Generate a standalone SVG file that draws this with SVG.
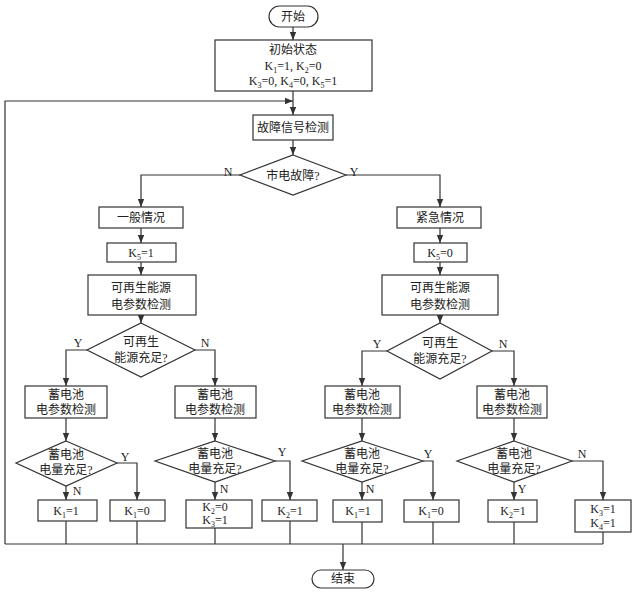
<svg xmlns="http://www.w3.org/2000/svg" width="640" height="593" viewBox="0 0 640 593">
<style>
.s{fill:#fff;stroke:#333;stroke-width:1.2}
.c{fill:none;stroke:#333;stroke-width:1.2}
text{font-family:"Liberation Serif","Noto Sans CJK SC",serif;font-size:12px;fill:#222;text-anchor:middle}
.sub{font-size:8px}
</style>
<defs><marker id="a" viewBox="0 0 10 10" refX="10" refY="5" markerWidth="7" markerHeight="7" orient="auto"><path d="M0,1 L10,5 L0,9 z" fill="#333"/></marker></defs>
<g id="connectors">
<path class="c" d="M293,27 V40" marker-end="url(#a)"/>
<path class="c" d="M293,91 V115" marker-end="url(#a)"/>
<path class="c" d="M5,544 V101 H293" marker-end="url(#a)"/>
<path class="c" d="M293,140 V155" marker-end="url(#a)"/>
<path class="c" d="M240,175 H141 V207" marker-end="url(#a)"/>
<path class="c" d="M346,175 H440 V207" marker-end="url(#a)"/>
<path class="c" d="M141,228 V243" marker-end="url(#a)"/>
<path class="c" d="M141,262 V275" marker-end="url(#a)"/>
<path class="c" d="M141,315 V323" marker-end="url(#a)"/>
<path class="c" d="M440,228 V243" marker-end="url(#a)"/>
<path class="c" d="M440,262 V275" marker-end="url(#a)"/>
<path class="c" d="M440,315 V323" marker-end="url(#a)"/>
<path class="c" d="M87,350 H66 V386" marker-end="url(#a)"/>
<path class="c" d="M195,350 H215 V386" marker-end="url(#a)"/>
<path class="c" d="M387,351 H362 V386" marker-end="url(#a)"/>
<path class="c" d="M492,351 H514 V386" marker-end="url(#a)"/>
<path class="c" d="M66,418 V441" marker-end="url(#a)"/>
<path class="c" d="M215,418 V441" marker-end="url(#a)"/>
<path class="c" d="M362,418 V441" marker-end="url(#a)"/>
<path class="c" d="M514,418 V441" marker-end="url(#a)"/>
<path class="c" d="M66,486 V500" marker-end="url(#a)"/>
<path class="c" d="M117,463 H137 V500" marker-end="url(#a)"/>
<path class="c" d="M215,482 V500" marker-end="url(#a)"/>
<path class="c" d="M275,461 H290 V500" marker-end="url(#a)"/>
<path class="c" d="M362,482 V500" marker-end="url(#a)"/>
<path class="c" d="M423,461 H433 V500" marker-end="url(#a)"/>
<path class="c" d="M514,482 V500" marker-end="url(#a)"/>
<path class="c" d="M572,461 H603 V500" marker-end="url(#a)"/>
<path class="c" d="M5,544 H603 M66,521 V544 M137,521 V544 M215,528 V544 M290,521 V544 M362,522 V544 M433,522 V544 M514,522 V544 M603,532 V544"/>
<path class="c" d="M343,544 V570" marker-end="url(#a)"/>
</g>
<g id="start"><rect class="s" x="269" y="6" width="49" height="21" rx="10.5"/><text x="293" y="21">开始</text></g>
<g id="init"><rect class="s" x="215" y="40" width="157" height="51"/><text x="293" y="54">初始状态</text>
<text x="293" y="70">K<tspan class="sub" dy="3">1</tspan><tspan dy="-3">=1, K</tspan><tspan class="sub" dy="3">2</tspan><tspan dy="-3">=0</tspan></text>
<text x="293" y="85">K<tspan class="sub" dy="3">3</tspan><tspan dy="-3">=0, K</tspan><tspan class="sub" dy="3">4</tspan><tspan dy="-3">=0, K</tspan><tspan class="sub" dy="3">5</tspan><tspan dy="-3">=1</tspan></text></g>
<g id="detect"><rect class="s" x="253" y="115" width="80" height="25"/><text x="293" y="132">故障信号检测</text></g>
<g id="grid"><polygon class="s" points="293,155 346,175 293,195 240,175"/><text x="293" y="180">市电故障?</text><text x="228" y="176">N</text><text x="354" y="176">Y</text></g>
<g id="normal"><rect class="s" x="99" y="207" width="84" height="21"/><text x="141" y="222">一般情况</text></g>
<g id="k5a"><rect class="s" x="107" y="243" width="69" height="19"/><text x="141" y="257">K<tspan class="sub" dy="3">5</tspan><tspan dy="-3">=1</tspan></text></g>
<g id="reL"><rect class="s" x="88" y="275" width="108" height="40"/><text x="141" y="292">可再生能源</text><text x="141" y="309">电参数检测</text></g>
<g id="emerg"><rect class="s" x="397" y="207" width="84" height="21"/><text x="440" y="222">紧急情况</text></g>
<g id="k5b"><rect class="s" x="414" y="243" width="53" height="19"/><text x="440" y="257">K<tspan class="sub" dy="3">5</tspan><tspan dy="-3">=0</tspan></text></g>
<g id="reR"><rect class="s" x="382" y="275" width="116" height="40"/><text x="440" y="292">可再生能源</text><text x="440" y="309">电参数检测</text></g>
<g id="dL"><polygon class="s" points="141,323 195,350 141,377 87,350"/><text x="141" y="346">可再生</text><text x="141" y="362">能源充足?</text><text x="78" y="347">Y</text><text x="205" y="347">N</text></g>
<g id="dR"><polygon class="s" points="440,323 492,351 440,379 387,351"/><text x="440" y="347">可再生</text><text x="440" y="363">能源充足?</text><text x="377" y="348">Y</text><text x="503" y="348">N</text></g>
<g id="b1"><rect class="s" x="25" y="386" width="82" height="32"/><text x="66" y="399">蓄电池</text><text x="66" y="414">电参数检测</text></g>
<g id="b2"><rect class="s" x="175" y="386" width="81" height="32"/><text x="215" y="399">蓄电池</text><text x="215" y="414">电参数检测</text></g>
<g id="b3"><rect class="s" x="325" y="386" width="75" height="32"/><text x="362" y="399">蓄电池</text><text x="362" y="414">电参数检测</text></g>
<g id="b4"><rect class="s" x="477" y="386" width="70" height="32"/><text x="512" y="399">蓄电池</text><text x="512" y="414">电参数检测</text></g>
<g id="q1"><polygon class="s" points="66,441 117,463 66,486 16,463"/><text x="66" y="459">蓄电池</text><text x="66" y="474">电量充足?</text><text x="125" y="461">Y</text><text x="77" y="495">N</text></g>
<g id="q2"><polygon class="s" points="215,441 275,461 215,482 155,461"/><text x="215" y="458">蓄电池</text><text x="215" y="473">电量充足?</text><text x="282" y="456">Y</text><text x="224" y="493">N</text></g>
<g id="q3"><polygon class="s" points="362,441 423,461 362,482 302,461"/><text x="362" y="458">蓄电池</text><text x="362" y="473">电量充足?</text><text x="428" y="458">Y</text><text x="370" y="493">N</text></g>
<g id="q4"><polygon class="s" points="514,441 572,461 514,482 457,461"/><text x="514" y="458">蓄电池</text><text x="514" y="473">电量充足?</text><text x="582" y="458">N</text><text x="522" y="493">Y</text></g>
<g id="r1"><rect class="s" x="38" y="500" width="59" height="21"/><text x="66" y="515">K<tspan class="sub" dy="3">1</tspan><tspan dy="-3">=1</tspan></text></g>
<g id="r2"><rect class="s" x="110" y="500" width="55" height="21"/><text x="137" y="515">K<tspan class="sub" dy="3">1</tspan><tspan dy="-3">=0</tspan></text></g>
<g id="r3"><rect class="s" x="186" y="500" width="66" height="28"/><text x="215" y="511">K<tspan class="sub" dy="3">2</tspan><tspan dy="-3">=0</tspan></text><text x="215" y="524">K<tspan class="sub" dy="3">3</tspan><tspan dy="-3">=1</tspan></text></g>
<g id="r4"><rect class="s" x="262" y="500" width="55" height="21"/><text x="290" y="515">K<tspan class="sub" dy="3">2</tspan><tspan dy="-3">=1</tspan></text></g>
<g id="r5"><rect class="s" x="333" y="500" width="49" height="22"/><text x="358" y="515">K<tspan class="sub" dy="3">1</tspan><tspan dy="-3">=1</tspan></text></g>
<g id="r6"><rect class="s" x="404" y="500" width="55" height="22"/><text x="431" y="515">K<tspan class="sub" dy="3">1</tspan><tspan dy="-3">=0</tspan></text></g>
<g id="r7"><rect class="s" x="488" y="500" width="49" height="22"/><text x="513" y="515">K<tspan class="sub" dy="3">2</tspan><tspan dy="-3">=1</tspan></text></g>
<g id="r8"><rect class="s" x="575" y="500" width="56" height="32"/><text x="603" y="513">K<tspan class="sub" dy="3">3</tspan><tspan dy="-3">=1</tspan></text><text x="603" y="527">K<tspan class="sub" dy="3">4</tspan><tspan dy="-3">=1</tspan></text></g>
<g id="end"><rect class="s" x="312" y="570" width="62" height="18" rx="9"/><text x="343" y="583">结束</text></g>
</svg>
